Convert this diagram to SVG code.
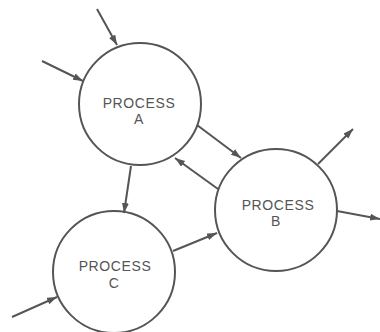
<svg xmlns="http://www.w3.org/2000/svg" width="380" height="332" viewBox="0 0 380 332">
<defs>
<style>
.node circle{fill:#fff;stroke:#555;stroke-width:2}
.node text{font-family:"Liberation Sans",Arial,sans-serif;font-size:14px;fill:#555;text-anchor:middle;letter-spacing:0.6px}
#connectors line{stroke:#555;stroke-width:2;marker-end:url(#arr)}
</style>
<marker id="arr" markerUnits="userSpaceOnUse" markerWidth="12" markerHeight="8" refX="10" refY="3.5" orient="auto">
<path d="M0,0 L10,3.5 L0,7 z" fill="#555"/>
</marker>
</defs>
<rect width="380" height="332" fill="#fff"/>
<g id="nodeA" class="node">
<circle cx="140" cy="104" r="61"/>
<text x="139" y="108">PROCESS</text>
<text x="139" y="124">A</text>
</g>
<g id="nodeB" class="node">
<circle cx="276" cy="210" r="61"/>
<text x="278" y="210">PROCESS</text>
<text x="276" y="226">B</text>
</g>
<g id="nodeC" class="node">
<circle cx="114" cy="272" r="61"/>
<text x="115" y="271">PROCESS</text>
<text x="114" y="288">C</text>
</g>
<g id="connectors">
<line x1="97" y1="9" x2="117" y2="45"/>
<line x1="42" y1="61" x2="83" y2="81"/>
<line x1="197" y1="125" x2="241" y2="158"/>
<line x1="218" y1="189" x2="175" y2="158"/>
<line x1="131" y1="166" x2="124" y2="213"/>
<line x1="173" y1="251" x2="217" y2="233"/>
<line x1="12" y1="317" x2="57" y2="297"/>
<line x1="318" y1="164" x2="353" y2="129"/>
<line x1="337" y1="211" x2="380" y2="219"/>
</g>
</svg>
